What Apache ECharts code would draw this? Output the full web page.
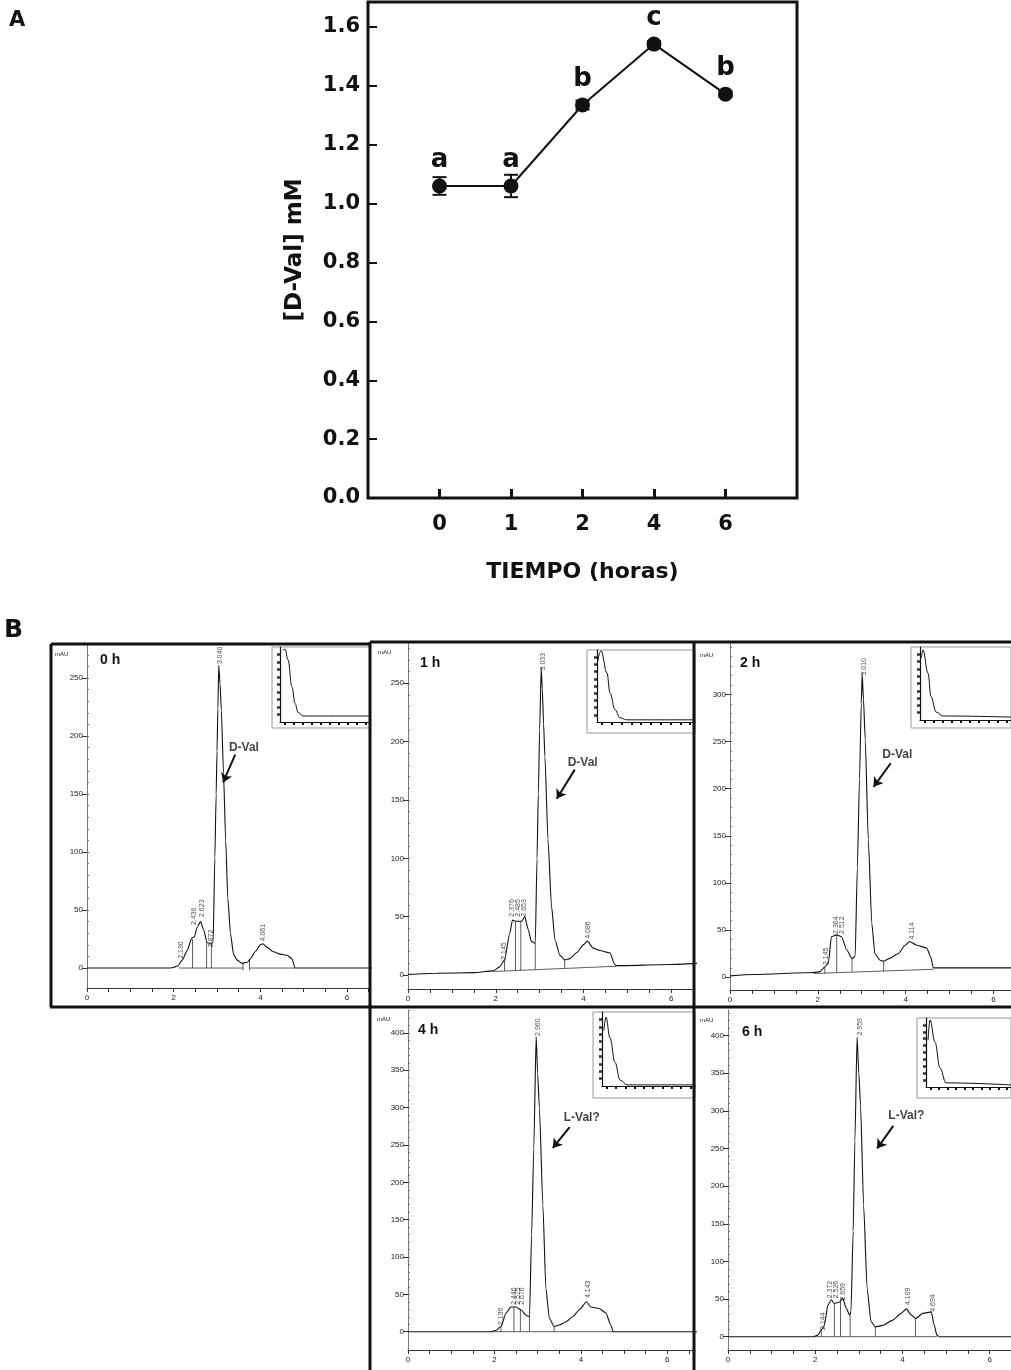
<!DOCTYPE html>
<html>
<head>
<meta charset="UTF-8">
<title>D-Val HPLC</title>
<script src="https://cdn.jsdelivr.net/npm/echarts@6.0.0/dist/echarts.min.js"></script>
<style>
    html, body { margin: 0; padding: 0; background: #fff; }
    #chart { width: 1011px; height: 1370px; }
</style>
</head>
<body>
<div id="chart"></div>
<script>
// ---- panel A data ----
const tiempoLabels = ['0', '1', '2', '4', '6'];
const dval = [1.06, 1.06, 1.335, 1.542, 1.372];
const dvalErr = [0.03, 0.038, 0.015, 0.01, 0.01];
const letters = ['a', 'a', 'b', 'c', 'b'];
const dvalTicks = [0, 0.2, 0.4, 0.6, 0.8, 1.0, 1.2, 1.4, 1.6];

// ---- panel B data: chromatograms [min, mAU] ----
const trace0h = [[0,0],[1.9,0],[2.0,0.5],[2.1,2],[2.2,7],[2.31,15],[2.42,26],[2.48,27],[2.54,35],[2.62,40],[2.69,33],[2.77,22],[2.85,21],[2.91,22],[2.95,95],[2.98,150],[3.0,187],[3.02,224],[3.04,261],[3.07,245],[3.1,222],[3.15,168],[3.2,110],[3.25,60],[3.31,30],[3.38,12],[3.46,7],[3.58,4],[3.7,5],[3.77,8],[3.88,14],[4.0,20],[4.06,21],[4.15,18],[4.3,14],[4.46,12],[4.62,11],[4.73,8],[4.8,0],[6.6,0]];
const trace1h = [[0,0.5],[0.65,1.5],[1.5,2],[1.94,3.5],[2.09,7],[2.2,13],[2.32,36],[2.38,47],[2.47,46],[2.59,46],[2.66,50],[2.74,39],[2.81,29],[2.9,27],[2.94,100],[2.97,155],[3.0,210],[3.035,263],[3.06,245],[3.09,215],[3.12,187],[3.19,116],[3.27,59],[3.35,30],[3.46,17],[3.57,13],[3.69,14],[3.84,19],[4.0,26],[4.09,29],[4.22,23],[4.37,21],[4.6,19],[4.71,9],[4.75,8],[5.97,9],[6.6,10]];
const trace2h = [[0,1.5],[0.53,3],[1.9,5],[2.05,6],[2.16,11],[2.24,15],[2.31,43],[2.43,45],[2.54,43],[2.66,29],[2.78,20],[2.85,22],[2.9,116],[2.95,210],[2.99,290],[3.01,322],[3.04,295],[3.08,252],[3.15,146],[3.23,57],[3.3,25],[3.42,18],[3.5,17],[3.64,20],[3.83,25],[3.99,34],[4.09,38],[4.25,34],[4.48,31],[4.57,22],[4.63,10],[6.45,10]];
const trace4h = [[0,0],[1.92,0],[2.04,2],[2.15,7],[2.27,25],[2.38,33],[2.5,33],[2.62,29],[2.73,22],[2.81,20],[2.86,130],[2.91,245],[2.965,395],[3.0,345],[3.04,300],[3.12,170],[3.19,58],[3.27,18],[3.38,7],[3.5,9],[3.65,13],[3.81,20],[3.96,29],[4.13,40],[4.23,33],[4.42,31],[4.58,25],[4.69,9],[4.75,0],[6.7,0]];
const trace6h = [[0,0],[1.95,0],[2.06,2],[2.14,9],[2.21,15],[2.29,42],[2.37,49],[2.44,44],[2.56,46],[2.63,51],[2.71,38],[2.79,29],[2.82,33],[2.87,140],[2.91,260],[2.96,398],[3.0,350],[3.04,307],[3.11,175],[3.19,64],[3.28,20],[3.38,13],[3.55,15],[3.78,22],[3.97,31],[4.09,37],[4.2,29],[4.3,24],[4.47,31],[4.66,33],[4.73,15],[4.79,2],[4.85,0],[6.6,0]];

// peak labels [min, mAU where text starts, text]
const peaks0h = [[2.17,8,'2.130'],[2.46,37,'2.436'],[2.65,44,'2.623'],[2.87,18,'2.872'],[3.06,262,'3.040'],[4.06,23,'4.061']];
const peaks1h = [[2.19,13,'2.145'],[2.37,50,'2.376'],[2.51,50,'2.485'],[2.64,50,'2.653'],[3.07,261,'3.033'],[4.11,31,'4.086']];
const peaks2h = [[2.18,13,'2.145'],[2.41,46,'2.364'],[2.56,46,'2.512'],[3.05,320,'3.010'],[4.14,40,'4.114']];
const peaks4h = [[2.15,9,'2.136'],[2.45,36,'2.446'],[2.55,36,'2.575'],[2.65,36,'2.676'],[3.0,396,'2.960'],[4.17,45,'4.143']];
const peaks6h = [[2.18,9,'2.144'],[2.35,51,'2.372'],[2.48,51,'2.526'],[2.65,48,'2.659'],[3.02,400,'2.959'],[4.12,42,'4.109'],[4.71,33,'4.694']];

// integration drop lines [min, from mAU, to mAU]
const drops0h = [[2.436,0,25],[2.76,0,22],[2.87,0,21],[3.6,-2,5],[3.75,-2,8]];
const drops1h = [[2.2,3.5,13],[2.45,4,46],[2.57,4,46],[2.9,5,27],[3.57,6,13]];
const drops2h = [[2.16,4,11],[2.43,5,45],[2.78,6,20],[3.5,6.5,17]];
const drops4h = [[2.15,0,7],[2.45,0,33],[2.6,0,30],[2.81,0,20],[3.38,0,7]];
const drops6h = [[2.14,0,9],[2.44,0,44],[2.58,0,47],[2.8,0,30],[3.38,0,13],[4.3,0,24]];

// integration baselines [min1, mAU1, min2, mAU2]
const base0h = [[2.13,0,3.6,0],[3.75,0,4.8,0]];
const base1h = [[1.94,3,4.75,7.5]];
const base2h = [[1.9,4,4.63,8.5]];
const base4h = [[1.92,0,4.75,0]];
const base6h = [[1.95,0,4.8,0]];

// small insets (arbitrary 0..10 units)
const inset0h = [[0.33,9.6],[0.56,9.7],[0.89,8.3],[1.33,4.7],[1.67,2.5],[2,1.3],[2.56,0.8],[3.3,0.8],[10,0.8]];
const inset1h = [[0.1,8.5],[0.31,9.7],[0.41,9.9],[1.02,6.8],[1.33,4.0],[1.84,1.7],[2.35,0.6],[3,0.3],[10,0.3]];
const inset2h = [[0.15,8.5],[0.33,9.6],[0.88,6.4],[1.21,3.2],[1.76,1.1],[2.53,0.55],[10,0.4]];
const inset4h = [[0.2,7.5],[0.43,9.3],[0.86,6.5],[1.4,3.2],[1.94,0.8],[2.7,0.15],[10,0.15]];
const inset6h = [[0.24,6.8],[0.47,9.7],[1.06,6.5],[1.65,2.75],[2.35,0.6],[10,0.3]];

const chromXLabels = [0, 2, 4, 6];
const chromXTicks = [0,0.5,1,1.5,2,2.5,3,3.5,4,4.5,5,5.5,6,6.5];

// ---- layout ----
const FONT = '"Liberation Sans", Arial, Helvetica, sans-serif';
const FONT_A = '"DejaVu Sans", Verdana, sans-serif';
const panels = [
    { title: '0 h', trace: trace0h, peaks: peaks0h, drops: drops0h, base: base0h, inset: inset0h,
      yTicks: [0,50,100,150,200,250], grid: [87, 644, 370, 988], xmax: 6.53, ymin: -17.2, ymax: 279.3,
      titlePos: [100, 653], mauPos: [55, 651],
      note: { text: 'D-Val', at: [3.62, 190], from: [3.42, 184], to: [3.14, 160] },
      box: [272, 647, 98, 81], ig: [280, 647, 370, 722] },
    { title: '1 h', trace: trace1h, peaks: peaks1h, drops: drops1h, base: base1h, inset: inset1h,
      yTicks: [0,50,100,150,200,250], grid: [408, 643, 695, 989], xmax: 6.54, ymin: -12, ymax: 284.5,
      titlePos: [420, 656], mauPos: [378, 649],
      note: { text: 'D-Val', at: [3.98, 182], from: [3.8, 176], to: [3.39, 151] },
      box: [587, 650, 108, 83], ig: [597, 650, 695, 722] },
    { title: '2 h', trace: trace2h, peaks: peaks2h, drops: drops2h, base: base2h, inset: inset2h,
      yTicks: [0,50,100,150,200,250,300], grid: [730, 643, 1011, 990], xmax: 6.4, ymin: -13.5, ymax: 354.5,
      titlePos: [740, 656], mauPos: [700, 652],
      note: { text: 'D-Val', at: [3.81, 236], from: [3.66, 227], to: [3.27, 202] },
      box: [911, 647, 100, 81], ig: [920, 647, 1011, 720] },
    { title: '4 h', trace: trace4h, peaks: peaks4h, drops: drops4h, base: base4h, inset: inset4h,
      yTicks: [0,50,100,150,200,250,300,350,400], grid: [408, 1010, 695, 1350], xmax: 6.64, ymin: -24.5, ymax: 430.7,
      titlePos: [418, 1023], mauPos: [377, 1016],
      note: { text: 'L-Val?', at: [4.02, 287], from: [3.74, 274], to: [3.35, 246] },
      box: [593, 1012, 102, 86], ig: [602, 1012, 695, 1086] },
    { title: '6 h', trace: trace6h, peaks: peaks6h, drops: drops6h, base: base6h, inset: inset6h,
      yTicks: [0,50,100,150,200,250,300,350,400], grid: [728, 1010, 1011, 1350], xmax: 6.49, ymin: -17.7, ymax: 434,
      titlePos: [742, 1025], mauPos: [700, 1017],
      note: { text: 'L-Val?', at: [4.09, 294], from: [3.79, 280], to: [3.42, 250] },
      box: [917, 1018, 94, 80], ig: [926, 1018, 1011, 1087] }
];

function segRender(params, api) {
    const p1 = api.coord([api.value(0), api.value(1)]);
    const p2 = api.coord([api.value(2), api.value(3)]);
    return { type: 'line', shape: { x1: p1[0], y1: p1[1], x2: p2[0], y2: p2[1] },
             style: { stroke: '#333', lineWidth: 0.8 } };
}

function errRender(params, api) {
    const x = api.value(0);
    const lo = api.coord([x, api.value(1)]);
    const hi = api.coord([x, api.value(2)]);
    const w = 7;
    const st = { stroke: '#111', lineWidth: 2 };
    return { type: 'group', children: [
        { type: 'line', shape: { x1: lo[0], y1: lo[1], x2: hi[0], y2: hi[1] }, style: st },
        { type: 'line', shape: { x1: lo[0] - w, y1: lo[1], x2: lo[0] + w, y2: lo[1] }, style: st },
        { type: 'line', shape: { x1: hi[0] - w, y1: hi[1], x2: hi[0] + w, y2: hi[1] }, style: st }
    ]};
}

const grids = [{ left: 368, top: 2, width: 429, height: 496, show: true, borderColor: '#111', borderWidth: 3 }];
const xAxes = [{
    gridIndex: 0, type: 'value', min: -1, max: 5,
    axisLine: { show: false, onZero: false }, splitLine: { show: false },
    axisTick: { show: true, inside: true, length: 9, customValues: [0, 1, 2, 3, 4], lineStyle: { color: '#111', width: 3 } },
    axisLabel: { customValues: [0, 1, 2, 3, 4], formatter: v => tiempoLabels[v], margin: 16,
                 fontSize: 21, fontWeight: 'bold', color: '#111', fontFamily: FONT_A },
    name: 'TIEMPO (horas)', nameLocation: 'middle', nameGap: 63,
    nameTextStyle: { fontSize: 22, fontWeight: 'bold', color: '#111', fontFamily: FONT_A }
}];
const yAxes = [{
    gridIndex: 0, type: 'value', min: 0, max: 1.685,
    axisLine: { show: false, onZero: false }, splitLine: { show: false },
    axisTick: { show: true, inside: true, length: 9, customValues: dvalTicks, lineStyle: { color: '#111', width: 2 } },
    axisLabel: { customValues: dvalTicks, formatter: v => v.toFixed(1), margin: 8,
                 fontSize: 21, fontWeight: 'bold', color: '#111', fontFamily: FONT_A },
    name: '[D-Val] mM', nameLocation: 'middle', nameGap: 61,
    nameTextStyle: { fontSize: 23, fontWeight: 'bold', color: '#111', fontFamily: FONT_A }
}];
const series = [
    { type: 'custom', xAxisIndex: 0, yAxisIndex: 0, renderItem: errRender, z: 3,
      data: dval.map((v, i) => [i, v - dvalErr[i], v + dvalErr[i]]) },
    { type: 'line', xAxisIndex: 0, yAxisIndex: 0, data: dval.map((v, i) => [i, v]), z: 4,
      symbol: 'circle', symbolSize: 15, lineStyle: { color: '#111', width: 2 }, itemStyle: { color: '#111' },
      label: { show: true, position: 'top', distance: 5, formatter: p => letters[p.dataIndex],
               fontSize: 26, fontWeight: 'bold', color: '#111', fontFamily: FONT_A } }
];
const graphics = [
    { type: 'text', left: 9, top: 10, style: { text: 'A', font: 'bold 21px ' + FONT_A, fill: '#111' } },
    { type: 'text', left: 4, top: 618, style: { text: 'B', font: 'bold 25px ' + FONT_A, fill: '#111' } }
];

panels.forEach((p, k) => {
    const gi = 1 + k;
    const [gl, gt, gr, gb] = p.grid;
    grids.push({ left: gl, top: gt, width: gr - gl, height: gb - gt });
    xAxes.push({
        gridIndex: gi, type: 'value', min: 0, max: p.xmax, splitLine: { show: false },
        axisLine: { onZero: false, lineStyle: { color: '#333', width: 1 } },
        axisTick: { customValues: chromXTicks, length: 4, lineStyle: { color: '#333', width: 1 } },
        axisLabel: { customValues: chromXLabels, fontSize: 8, margin: 6, color: '#222', fontFamily: FONT }
    });
    const minor = [];
    for (let v = 10; v < p.ymax; v += 10) minor.push(v);
    yAxes.push({
        gridIndex: gi, type: 'value', min: p.ymin, max: p.ymax, splitLine: { show: false }, position: 'left',
        axisLine: { show: true, onZero: false, lineStyle: { color: '#777', width: 1 } },
        axisTick: { customValues: p.yTicks, length: 5, lineStyle: { color: '#333', width: 1 } },
        axisLabel: { customValues: p.yTicks, fontSize: 8, margin: 4, color: '#222', fontFamily: FONT }
    });
    yAxes.push({
        gridIndex: gi, type: 'value', min: p.ymin, max: p.ymax, splitLine: { show: false }, position: 'left', offset: 0,
        axisLine: { show: false, onZero: false }, axisLabel: { show: false },
        axisTick: { customValues: minor, length: 2, inside: true, lineStyle: { color: '#777', width: 1 } }
    });
    const yi = 1 + 2 * k;
    series.push({
        type: 'line', xAxisIndex: gi, yAxisIndex: yi, data: p.trace, symbol: 'none',
        smooth: 0.2, smoothMonotone: 'x', lineStyle: { color: '#111', width: 1.1 }, z: 3,
        markLine: { silent: true, symbol: ['none', 'arrow'], symbolSize: 9, animation: false,
                    lineStyle: { color: '#111', width: 2, type: 'solid' }, label: { show: false },
                    data: [[{ coord: p.note.from }, { coord: p.note.to }]] }
    });
    series.push({
        type: 'custom', xAxisIndex: gi, yAxisIndex: yi, renderItem: segRender, z: 2,
        data: p.base.concat(p.drops.map(d => [d[0], d[1], d[0], d[2]]))
    });
    series.push({
        type: 'scatter', xAxisIndex: gi, yAxisIndex: yi, symbolSize: 0, z: 5,
        data: p.peaks.map(d => ({ value: [d[0], d[1]], name: d[2] })),
        label: { show: true, formatter: '{b}', rotate: 90, position: [0, 0], align: 'left', verticalAlign: 'middle',
                 fontSize: 7, color: '#222', fontFamily: FONT }
    });
    series.push({
        type: 'scatter', xAxisIndex: gi, yAxisIndex: yi, symbolSize: 0, z: 5,
        data: [{ value: p.note.at, name: p.note.text }],
        label: { show: true, formatter: '{b}', position: [0, 0], align: 'center', verticalAlign: 'middle',
                 fontSize: 12, fontWeight: 'bold', color: '#111', fontFamily: FONT }
    });
    graphics.push({ type: 'text', left: p.titlePos[0], top: p.titlePos[1],
                    style: { text: p.title, font: 'bold 14px ' + FONT, fill: '#111' } });
    graphics.push({ type: 'text', left: p.mauPos[0], top: p.mauPos[1],
                    style: { text: 'mAU', font: '6px ' + FONT, fill: '#222' } });
    graphics.push({ type: 'rect', shape: { x: p.box[0], y: p.box[1], width: p.box[2], height: p.box[3] },
                    style: { fill: 'none', stroke: '#999', lineWidth: 1 } });
});

// inset grids go after the main ones
panels.forEach((p, k) => {
    const gi = 6 + k;
    const [il, it, ir, ib] = p.ig;
    grids.push({ left: il, top: it, width: ir - il, height: ib - it });
    xAxes.push({
        gridIndex: gi, type: 'value', min: 0, max: 10, splitLine: { show: false },
        axisLine: { onZero: false, lineStyle: { color: '#111', width: 1.2 } },
        axisTick: { customValues: [0.5,1.5,2.5,3.5,4.5,5.5,6.5,7.5,8.5,9.5], length: 3, lineStyle: { color: '#111', width: 2 } },
        axisLabel: { show: false }
    });
    yAxes.push({
        gridIndex: gi, type: 'value', min: 0, max: 10, splitLine: { show: false }, position: 'left',
        axisLine: { onZero: false, lineStyle: { color: '#111', width: 1.2 } },
        axisTick: { customValues: [1,2,3,4,5,6,7,8,9], length: 3, lineStyle: { color: '#333', width: 2.5 } },
        axisLabel: { show: false }
    });
    series.push({
        type: 'line', xAxisIndex: gi, yAxisIndex: yAxes.length - 1, data: p.inset, symbol: 'none',
        smooth: 0.4, smoothMonotone: 'x', lineStyle: { color: '#111', width: 1 }, z: 6
    });
});

// thick panel frames
const frame = [
    [51, 644, 370, 644], [51, 644, 51, 1007], [50, 1007, 372, 1007],
    [370, 642, 1011, 642], [370, 642, 370, 1370], [694, 642, 694, 1370], [370, 1007, 1011, 1007]
];
frame.forEach(f => graphics.push({ type: 'line', z: 100,
    shape: { x1: f[0], y1: f[1], x2: f[2], y2: f[3] }, style: { stroke: '#111', lineWidth: 3 } }));

const chart = echarts.init(document.getElementById('chart'));
chart.setOption({
    animation: false,
    backgroundColor: '#fff',
    textStyle: { fontFamily: FONT },
    grid: grids,
    xAxis: xAxes,
    yAxis: yAxes,
    series: series,
    graphic: graphics
});
</script>
</body>
</html>
